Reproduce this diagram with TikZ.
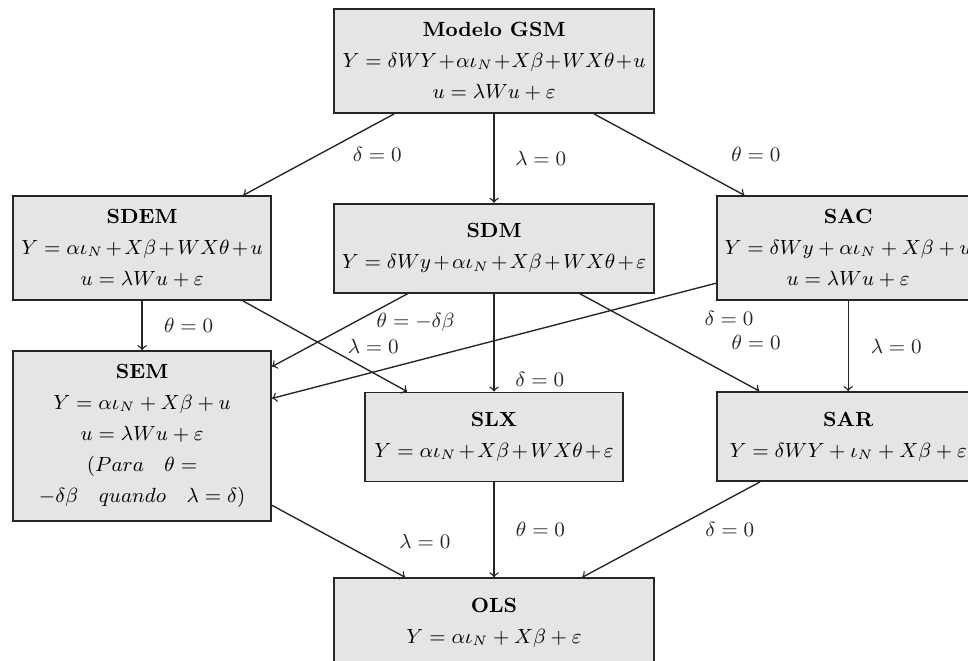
\documentclass[tikz,border=0pt]{standalone}
\usepackage{amsmath}
\usepackage{tikz}
\usetikzlibrary{positioning}
\tikzset{
    model/.style={
        rectangle,
        draw=black!85,
        thick,
        fill=gray!20,
        align=center,
        minimum width=3.98cm,
        minimum height=1.372cm
    },
    widemodel/.style={model, minimum width=4.94cm},
    line/.style={draw, ->, semithick, black!85}
}

\begin{document}
\begin{tikzpicture}[font=\fontsize{9}{13.6}\selectfont]

    \useasboundingbox (-7.62,-9.25) rectangle (7.31,0.94);
    \clip (-7.62,-9.25) rectangle (7.31,0.94);

    % Nodes
    \node[widemodel, minimum height=1.604cm] (gsm) at (0,0) {\textbf{Modelo GSM} \\ $\medmuskip=1mu Y = \delta WY + \alpha\iota_N + X\beta + WX\theta + u$ \\ $u = \lambda Wu + \varepsilon$};

    \node[widemodel, below=1.372cm of gsm] (sdm) {\textbf{SDM} \\ $\medmuskip=2mu Y = \delta Wy + \alpha\iota_N + X\beta + WX\theta + \varepsilon$};
    \node[model, minimum height=1.604cm, left=0.94cm of sdm] (sdem) {\textbf{SDEM} \\ $\medmuskip=2mu Y = \alpha\iota_N + X\beta + WX\theta + u$ \\ $u = \lambda Wu + \varepsilon$};
    \node[model, minimum height=1.604cm, minimum width=4.04cm, right=0.94cm of sdm] (sac) {\textbf{SAC} \\ $Y = \delta Wy + \alpha\iota_N + X\beta + u$ \\ $u = \lambda Wu + \varepsilon$};

    \node[model, minimum height=2.62cm, below=0.756cm of sdem] (sem) {\textbf{SEM} \\ $Y = \alpha\iota_N + X\beta + u$ \\ $u = \lambda Wu + \varepsilon$ \\ $(Para \quad \theta =$ \\ $-\delta\beta \quad quando \quad \lambda = \delta)$};
    \node[model, below=1.511cm of sdm] (slx) {\textbf{SLX} \\ $\medmuskip=2mu Y = \alpha\iota_N + X\beta + WX\theta + \varepsilon$};
    \node[model, minimum width=4.04cm, below=1.388cm of sac] (sar) {\textbf{SAR} \\ $Y = \delta WY + \iota_N + X\beta + \varepsilon$};

    \node[widemodel, below=1.465cm of slx] (ols) {\textbf{OLS} \\ $Y = \alpha\iota_N + X\beta + \varepsilon$};

    % Connections
    \path[line] ([xshift=-1.54cm]gsm.south) -- node[midway, right=0.4cm] {$\delta = 0$} ([xshift=1.56cm]sdem.north);
    \path[line] (gsm.south) -- node[midway, right=0.2cm] {$\lambda = 0$} (sdm.north);
    \path[line] ([xshift=1.54cm]gsm.south) -- node[midway, right=0.83cm] {$\theta = 0$} ([xshift=-1.60cm]sac.north);

    \path[line] (sdem.south) -- node[midway, right=0.21cm] {$\theta = 0$} (sem.north);
    \path[line] ([xshift=1.56cm]sdem.south) -- node[midway, right=0.22cm] {$\lambda = 0$} ([xshift=-1.34cm]slx.north);

    \path[line] ([xshift=-1.33cm]sdm.south) -- node[pos=0.4, right=0.23cm] {$\theta = -\delta\beta$} ([yshift=1.07cm]sem.east);
    \path[line] (sdm.south) -- node[pos=0.88, right=0.2cm] {$\delta = 0$} (slx.north);
    \path[line] ([xshift=1.32cm]sdm.south) -- node[midway, right=0.83cm] {$\theta = 0$} ([xshift=-1.37cm]sar.north);

    \path[line] ([yshift=-0.54cm]sac.west) -- node[pos=0, xshift=0.2cm, yshift=-0.54cm] {$\delta = 0$} ([yshift=0.58cm]sem.east);
    \path[line] (sac.south) -- node[midway, right=0.22cm] {$\lambda = 0$} (sar.north);

    \path[line] ([yshift=-1.07cm]sem.east) -- node[midway, right=0.81cm] {$\lambda = 0$} ([xshift=-1.37cm]ols.north);
    \path[line] (slx.south) -- node[midway, right=0.21cm] {$\theta = 0$} (ols.north);
    \path[line] ([xshift=-1.36cm]sar.south) -- node[midway, right=0.4cm] {$\delta = 0$} ([xshift=1.36cm]ols.north);

\end{tikzpicture}
\end{document}
